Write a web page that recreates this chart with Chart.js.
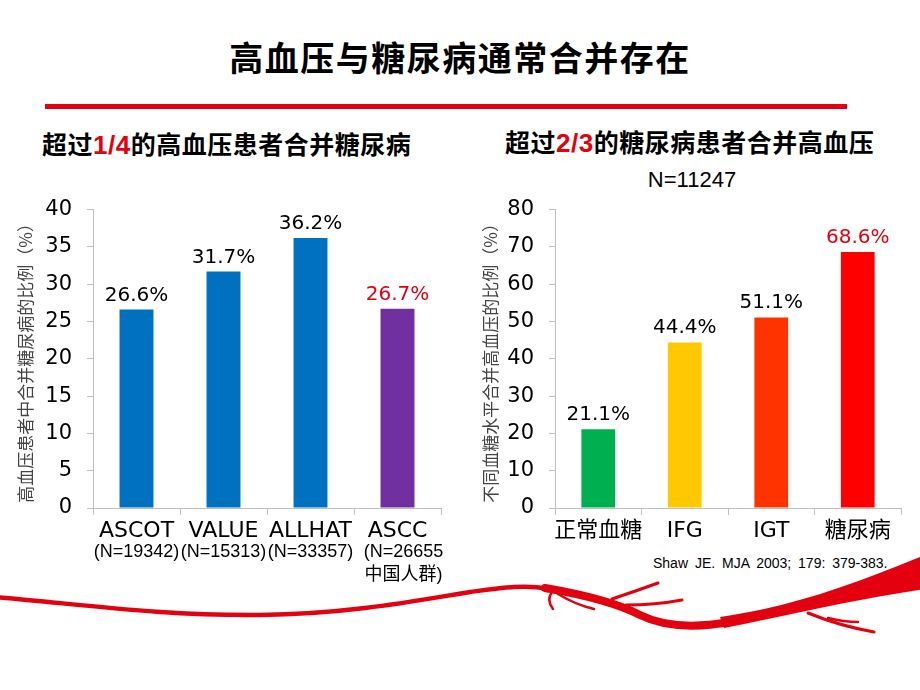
<!DOCTYPE html>
<html>
<head>
<meta charset="UTF-8">
<title>高血压与糖尿病通常合并存在</title>
<style type="text/css">
  body { margin: 0; background: #fff; }
  #slide { position: relative; width: 920px; height: 690px; overflow: hidden; background: #fff; }
  .abs { position: absolute; }
  #title { left: 0; width: 920px; top: 36px; text-align: center; font: bold 34px/42px "Noto Sans CJK SC", sans-serif; letter-spacing: 1.5px; color: #000; }
  #rule { left: 45px; top: 104px; width: 802px; height: 5px; background: #e3000f; }
  .sub { font: bold 25px/30px "Noto Sans CJK SC", sans-serif; letter-spacing: 0.5px; color: #000; white-space: nowrap; }
  .sub span { color: #e3000f; font-family: "Liberation Sans", sans-serif; font-size: 26px; }
  #subL { left: 42px; top: 128px; }
  #subR { left: 505px; top: 126px; }
  #nTotal { left: 560px; width: 264px; top: 167px; text-align: center; font: 22px/26px "Liberation Sans", sans-serif; color: #000; }
  #ref { left: 653px; top: 554px; font: 14px/18px "Liberation Sans", sans-serif; word-spacing: 3px; color: #000; white-space: nowrap; }
  #left { left: 0; top: 182px; }
  #right { left: 460px; top: 182px; }
</style>
<script type="text/javascript" src="https://cdn.jsdelivr.net/npm/chart.js@4.4.0/dist/chart.umd.min.js"></script>
</head>
<body>
<div id="slide">
  <svg class="abs" style="left:0;top:0" width="920" height="690">
    <g fill="none" stroke="#e3000f" stroke-linecap="round">
      <path stroke-width="4.5" d="M -5 597 C 80 604, 160 616, 260 615 C 350 614, 420 600, 470 592 C 500 588, 525 584, 548 589"/>
      <path stroke-width="8" d="M 545 588 C 580 594, 615 602, 640 615 C 660 625, 690 629, 730 622"/>
      <path stroke-width="2.5" d="M 552 592 Q 546 600 553 609"/>
      <path stroke-width="2.5" d="M 558 594 Q 576 605 594 609"/>
      <path stroke-width="3" d="M 612 599 Q 636 591 658 583"/>
      <path stroke-width="3" d="M 626 605 Q 655 605 682 600"/>
      <path stroke-width="3" d="M 808 613 Q 840 626 874 632"/>
      <path stroke-width="2.5" d="M 828 618 Q 844 622 858 622"/>
    </g>
    <path fill="#e3000f" d="M 720 617 C 790 607, 850 586, 925 555 L 925 589 C 850 600, 790 615, 724 628 Z"/>
  </svg>

  <div id="title" class="abs">高血压与糖尿病通常合并存在</div>
  <div id="rule" class="abs"></div>
  <div id="subL" class="abs sub">超过<span>1/4</span>的高血压患者合并糖尿病</div>
  <div id="subR" class="abs sub">超过<span>2/3</span>的糖尿病患者合并高血压</div>
  <div id="nTotal" class="abs">N=11247</div>
  <div id="ref" class="abs">Shaw JE. MJA 2003; 179: 379-383.</div>

  <canvas id="left" class="abs" width="460" height="408"></canvas>
  <canvas id="right" class="abs" width="460" height="408"></canvas>
</div>

<script>
// left chart: hypertension patients with diabetes
var leftCategories = ['ASCOT', 'VALUE', 'ALLHAT', 'ASCC'];
var leftSubLabels = [['(N=19342)'], ['(N=15313)'], ['(N=33357)'], ['(N=26655', '中国人群)']];
var leftValues = [26.6, 31.7, 36.2, 26.7];
var leftTicks = [0, 5, 10, 15, 20, 25, 30, 35, 40];

// right chart: hypertension by glucose level
var rightCategories = ['正常血糖', 'IFG', 'IGT', '糖尿病'];
var rightValues = [21.1, 44.4, 51.1, 68.6];
var rightTicks = [0, 10, 20, 30, 40, 50, 60, 70, 80];

var leftColors = ['#0070c0', '#0070c0', '#0070c0', '#7030a0'];
var leftLabelColors = ['#000', '#000', '#000', '#e3000f'];
var rightColors = ['#00b050', '#ffc800', '#ff3300', '#ff0000'];
var rightLabelColors = ['#000', '#000', '#000', '#e3000f'];

var axisGray = '#bfbfbf';
var numFont = '"DejaVu Sans", "Noto Sans CJK SC", sans-serif';

var valueLabels = {
  id: 'valueLabels',
  afterDatasetsDraw: function(chart, args, opts) {
    var ctx = chart.ctx;
    var meta = chart.getDatasetMeta(0);
    var vals = chart.data.datasets[0].data;
    ctx.save();
    ctx.font = '20px ' + numFont;
    ctx.textAlign = 'center';
    ctx.textBaseline = 'alphabetic';
    meta.data.forEach(function(bar, i) {
      ctx.fillStyle = opts.colors[i];
      ctx.fillText(vals[i].toFixed(1) + '%', bar.x, bar.y - 9);
    });
    ctx.restore();
  }
};

var subLabels = {
  id: 'subLabels',
  afterDraw: function(chart, args, opts) {
    if (!opts.lines) return;
    var ctx = chart.ctx;
    var xs = chart.scales.x;
    ctx.save();
    ctx.font = '18px "Liberation Sans", "Noto Sans CJK SC", sans-serif';
    ctx.fillStyle = '#000';
    ctx.textAlign = 'center';
    ctx.textBaseline = 'middle';
    opts.lines.forEach(function(lines, i) {
      var x = xs.getPixelForValue(i);
      if (lines.length > 1) x += 6;
      lines.forEach(function(t, j) {
        ctx.fillText(t, x, xs.top + 44 + j * 23);
      });
    });
    ctx.restore();
  }
};

function makeChart(id, cats, vals, colors, labelColors, ticks, yTitle, yWidth, titlePad, subs) {
  return new Chart(document.getElementById(id), {
    type: 'bar',
    data: {
      labels: cats,
      datasets: [{
        data: vals,
        backgroundColor: colors,
        barPercentage: 0.39,
        categoryPercentage: 1
      }]
    },
    options: {
      responsive: false,
      animation: false,
      layout: { padding: { top: 6, right: 19, left: 0, bottom: 0 } },
      plugins: {
        legend: { display: false },
        tooltip: { enabled: false },
        valueLabels: { colors: labelColors },
        subLabels: { lines: subs }
      },
      scales: {
        x: {
          grid: { display: true, drawOnChartArea: false, tickLength: 7, color: axisGray },
          border: { color: axisGray },
          ticks: { color: '#000', font: { family: numFont, size: 22 }, padding: 3, autoSkip: false, maxRotation: 0 },
          afterFit: function(s) { s.height = 82; }
        },
        y: {
          min: ticks[0],
          max: ticks[ticks.length - 1],
          afterBuildTicks: function(s) { s.ticks = ticks.map(function(v) { return { value: v }; }); },
          grid: { display: true, drawOnChartArea: false, tickLength: 6, color: axisGray },
          border: { color: axisGray },
          ticks: { color: '#000', font: { family: numFont, size: 21 }, padding: 15 },
          title: {
            display: true,
            text: yTitle,
            color: '#444',
            font: { family: '"Noto Sans CJK SC", sans-serif', size: 17 },
            padding: { top: titlePad, bottom: 0 }
          },
          afterFit: function(s) { s.width = yWidth; }
        }
      }
    },
    plugins: [valueLabels, subLabels]
  });
}

makeChart('left', leftCategories, leftValues, leftColors, leftLabelColors, leftTicks,
  '高血压患者中合并糖尿病的比例（%）', 93, 15, leftSubLabels);
makeChart('right', rightCategories, rightValues, rightColors, rightLabelColors, rightTicks,
  '不同血糖水平合并高血压的比例（%）', 95, 20, null);
</script>
</body>
</html>
